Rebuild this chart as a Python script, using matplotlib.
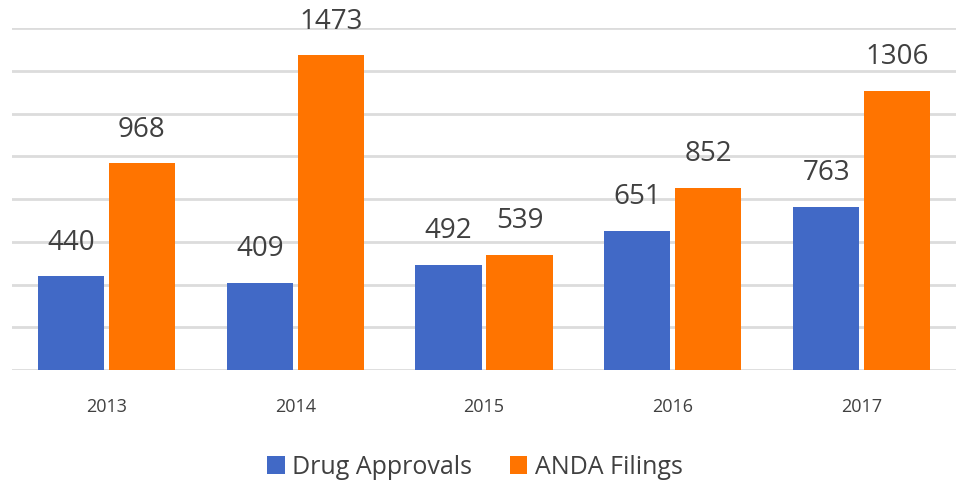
import numpy as np
from matplotlib import pyplot as plt

years = ["2013", "2014", "2015", "2016", "2017"]
drug_approvals = [440, 409, 492, 651, 763]
anda_filings = [968, 1473, 539, 852, 1306]

BLUE = "#4169C6"
ORANGE = "#FF7400"
TXT = "#404040"

plt.rcParams['font.family'] = ['Open Sans', 'DejaVu Sans']

fig = plt.figure(figsize=(9.56, 4.88), dpi=100)
ax = fig.add_axes([12 / 956, 1 - 370 / 488, 944 / 956, 342 / 488])

x = np.arange(len(years))
w = 0.35
off = 0.188
b1 = ax.bar(x - off, drug_approvals, w, color=BLUE, label="Drug Approvals", zorder=3)
b2 = ax.bar(x + off, anda_filings, w, color=ORANGE, label="ANDA Filings", zorder=3)

for bars in (b1, b2):
    for r in bars:
        ax.annotate(str(int(r.get_height())), (r.get_x() + r.get_width() / 2, r.get_height()),
                    xytext=(0, 14), textcoords="offset points", ha="center", va="bottom",
                    fontsize=20, color=TXT, annotation_clip=False)

ax.set_xlim(-0.5, len(years) - 0.5)
ax.set_ylim(0, 1600)
ax.set_yticks(np.arange(0, 1601, 200))
ax.yaxis.grid(True, color="#DCDCDC", linewidth=2, zorder=0)
ax.set_yticklabels([])
ax.tick_params(axis="y", length=0)
ax.set_xticks(x)
ax.set_xticklabels(years, fontsize=13, color=TXT)
ax.tick_params(axis="x", length=0, pad=20)
for s in ax.spines.values():
    s.set_visible(False)

fig.legend(handles=[b1, b2], loc="center", bbox_to_anchor=(0.497, 1 - 467 / 488), ncol=2,
           frameon=False, fontsize=18, labelcolor=TXT, handlelength=0.7, handleheight=0.7,
           handletextpad=0.3, columnspacing=1.5)

fig.savefig("out.png", dpi=100)
